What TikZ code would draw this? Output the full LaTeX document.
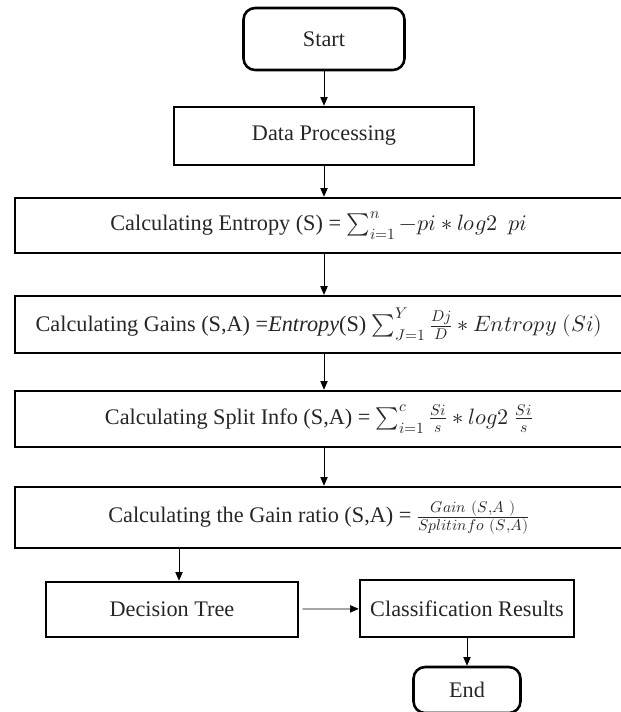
\documentclass[tikz,border=0pt]{standalone}
\usepackage{amsmath}
\usepackage{fontspec}
\usepackage{unicode-math}
\setmainfont{Liberation Serif}
\setmathfont{Latin Modern Math}
\usetikzlibrary{arrows.meta,positioning,calc}

\begin{document}
\begin{tikzpicture}[x=.3mm,y=-.3mm,
  font=\fontsize{19}{22}\selectfont,
  term/.style={draw,line width=2.2pt,rounded corners=3.5mm,align=center,text=black!85},
  stepbox/.style={draw,line width=2.2pt,align=center,text=black!85,inner sep=2pt,minimum height=1.7cm},
  wide/.style={stepbox,minimum width=18.24cm},
  flow/.style={-{Triangle[length=2.6mm,width=2.2mm]},line width=.6pt}]

\path[use as bounding box] (0,0) rectangle (621,712);
\node[term,minimum width=4.83cm,minimum height=1.86cm] (start) at (324,39) {Start};
\node[stepbox,minimum width=9cm,minimum height=1.74cm] (data) at (324,136) {Data Processing};
\node[wide,minimum height=1.65cm] (entropy) at (319,225.5)
  {Calculating Entropy (S) = $\sum_{i=1}^{n}-pi*log2\ \ pi$};
\node[wide] (gains) at (319,324.5)
  {Calculating Gains (S,A) =\textit{Entropy}(S) $\sum_{J=1}^{Y}\frac{Dj}{D}*Entropy\ (Si)$};
\node[wide,minimum height=1.68cm] (split) at (319,419)
  {Calculating Split Info (S,A) = $\sum_{i=1}^{c}\frac{Si}{s}*log2\ \frac{Si}{s}$};
\node[wide,minimum height=1.83cm] (ratio) at (319,517.5)
  {Calculating the Gain ratio (S,A) = $\frac{Gain\ (S,A\ )}{Splitinfo\ (S,A)}$};
\node[stepbox,minimum width=7.56cm,minimum height=1.65cm] (decision) at (172,609.5) {Decision Tree};
\node[stepbox,minimum width=6.42cm] (result) at (467,608.5) {Classification Results};
\node[term,minimum width=3.21cm,minimum height=1.38cm] (stop) at (467,690) {End};
\coordinate (drop) at ([xshift=2.1mm]decision.north);
\draw[flow] (start) -- (data);
\draw[flow] (data) -- (data |- entropy.north);
\draw[flow] (entropy.south -| data) -- (data |- gains.north);
\draw[flow] (gains.south -| data) -- (data |- split.north);
\draw[flow] (split.south -| data) -- (data |- ratio.north);
\draw[flow] (ratio.south -| drop) -- (drop);
\draw[flow,shorten <=1mm] (decision) -- (result);
\draw[flow] (result) -- (stop);

\end{tikzpicture}
\end{document}
